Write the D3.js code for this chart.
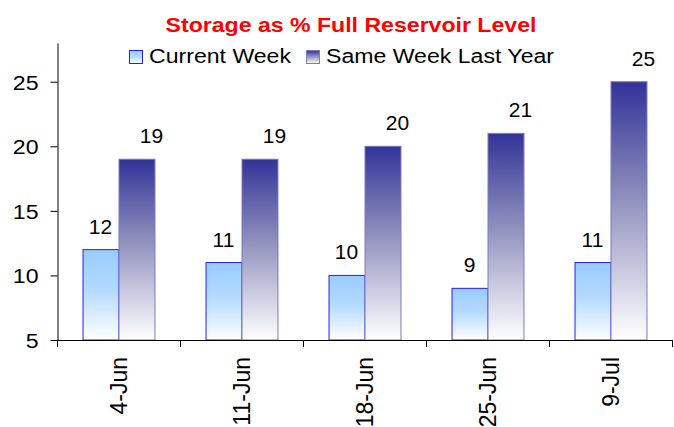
<!DOCTYPE html>
<html>
<head>
<meta charset="utf-8">
<script src="https://cdn.jsdelivr.net/npm/d3@7"></script>
<style>
  body { margin: 0; background: #fff; }
  svg { display: block; font-family: "Liberation Sans", Arial, sans-serif; }
</style>
</head>
<body>
<svg id="chart" width="674" height="427"></svg>
<script>
// data
var weeks = ["4-Jun", "11-Jun", "18-Jun", "25-Jun", "9-Jul"];
var currentWeek = [12, 11, 10, 9, 11];
var lastYear = [19, 19, 20, 21, 25];
var seriesNames = ["Current Week", "Same Week Last Year"];
var yTicks = [5, 10, 15, 20, 25];

var svg = d3.select("#chart");
// plot box (window.top is read-only, so keep these names apart)
var plotLeft = 57, plotRight = 672, plotTop = 43, plotBottom = 340;

var x = d3.scaleBand()
    .domain(weeks)
    .range([plotLeft, plotRight])
    .paddingInner(0.415)
    .paddingOuter(0.2075);

var y = d3.scaleLinear()
    .domain([5, 28])
    .range([plotBottom, plotTop]);

var half = x.bandwidth() / 2;
var edge = x.step() * x.paddingOuter();

// gradients
var defs = svg.append("defs");
function gradient(id, topColor, midColor) {
    var g = defs.append("linearGradient")
        .attr("id", id)
        .attr("x1", 0).attr("y1", 0).attr("x2", 0).attr("y2", 1);
    g.append("stop").attr("offset", "0%").attr("stop-color", topColor);
    g.append("stop").attr("offset", "45%").attr("stop-color", midColor);
    g.append("stop").attr("offset", "100%").attr("stop-color", "#ffffff");
}
gradient("gCur", "#99ccff", "#b4daff");
gradient("gLast", "#333399", "#8f8fbd");

var fills = ["url(#gCur)", "url(#gLast)"];
var strokes = ["#2020ff", "#7a7ac4"];

// title
svg.append("text")
    .attr("transform", "translate(351,32) scale(1.1,1)")
    .attr("text-anchor", "middle")
    .attr("font-size", 21)
    .attr("font-weight", "bold")
    .attr("fill", "#ff0000")
    .text("Storage as % Full Reservoir Level");

// legend
var legendX = [129, 306];
var legend = svg.selectAll(".legend")
    .data(seriesNames)
    .enter()
    .append("g")
    .attr("class", "legend");
legend.append("rect")
    .attr("x", function(d, i) { return legendX[i] + 0.5; })
    .attr("y", 50.5)
    .attr("width", 13)
    .attr("height", 13)
    .attr("fill", function(d, i) { return fills[i]; })
    .attr("stroke", function(d, i) { return strokes[i]; });
legend.append("text")
    .attr("transform", function(d, i) { return "translate(" + (legendX[i] + 20) + ",63) scale(1.1,1)"; })
    .attr("font-size", 21)
    .attr("fill", "#000")
    .text(function(d) { return d; });

// bars
var groups = svg.selectAll(".week")
    .data(weeks)
    .enter()
    .append("g")
    .attr("class", "week");

groups.append("rect")
    .attr("x", function(d) { return x(d) + 0.5; })
    .attr("y", function(d, i) { return y(currentWeek[i]); })
    .attr("width", half)
    .attr("height", function(d, i) { return plotBottom - y(currentWeek[i]); })
    .attr("fill", fills[0])
    .attr("stroke", strokes[0]);

groups.append("rect")
    .attr("x", function(d) { return x(d) + half + 0.5; })
    .attr("y", function(d, i) { return y(lastYear[i]); })
    .attr("width", half)
    .attr("height", function(d, i) { return plotBottom - y(lastYear[i]); })
    .attr("fill", fills[1])
    .attr("stroke", strokes[1]);

// value labels
groups.append("text")
    .attr("x", function(d) { return x(d) + half / 2; })
    .attr("y", function(d, i) { return y(currentWeek[i]) - 16; })
    .attr("text-anchor", "middle")
    .attr("font-size", 21)
    .text(function(d, i) { return currentWeek[i]; });

groups.append("text")
    .attr("x", function(d) { return x(d) + half * 1.5 + 15; })
    .attr("y", function(d, i) { return y(lastYear[i]) - 16; })
    .attr("text-anchor", "middle")
    .attr("font-size", 21)
    .text(function(d, i) { return lastYear[i]; });

// y axis
var yAxis = svg.append("g")
    .attr("transform", "translate(" + (plotLeft + 0.5) + ",0)")
    .call(d3.axisLeft(y).tickValues(yTicks).tickSize(7).tickSizeOuter(0));
yAxis.select(".domain").attr("stroke", "#000");
yAxis.selectAll(".tick line").attr("stroke", "#000");
yAxis.selectAll(".tick text")
    .attr("x", null)
    .attr("dy", "0.35em")
    .attr("transform", "translate(-19,0) scale(1.1,1)")
    .attr("font-size", 21)
    .attr("font-family", null)
    .attr("fill", "#000");

// x axis (ticks sit between the weeks)
var xAxis = svg.append("g").attr("class", "x-axis");
xAxis.append("line")
    .attr("x1", plotLeft).attr("x2", plotRight + 1)
    .attr("y1", plotBottom + 0.5).attr("y2", plotBottom + 0.5)
    .attr("stroke", "#000");
var tickPos = weeks.map(function(d) { return x(d) - edge; }).concat([plotRight]);
xAxis.selectAll(".xtick")
    .data(tickPos)
    .enter()
    .append("line")
    .attr("x1", function(d) { return Math.round(d) + 0.5; })
    .attr("x2", function(d) { return Math.round(d) + 0.5; })
    .attr("y1", plotBottom)
    .attr("y2", plotBottom + 7)
    .attr("stroke", "#000");
xAxis.selectAll(".xlabel")
    .data(weeks)
    .enter()
    .append("text")
    .attr("transform", function(d) { return "translate(" + (x(d) + half) + ",357) rotate(-90)"; })
    .attr("text-anchor", "end")
    .attr("dy", "0.35em")
    .attr("font-size", 23)
    .text(function(d) { return d; });
</script>
</body>
</html>
